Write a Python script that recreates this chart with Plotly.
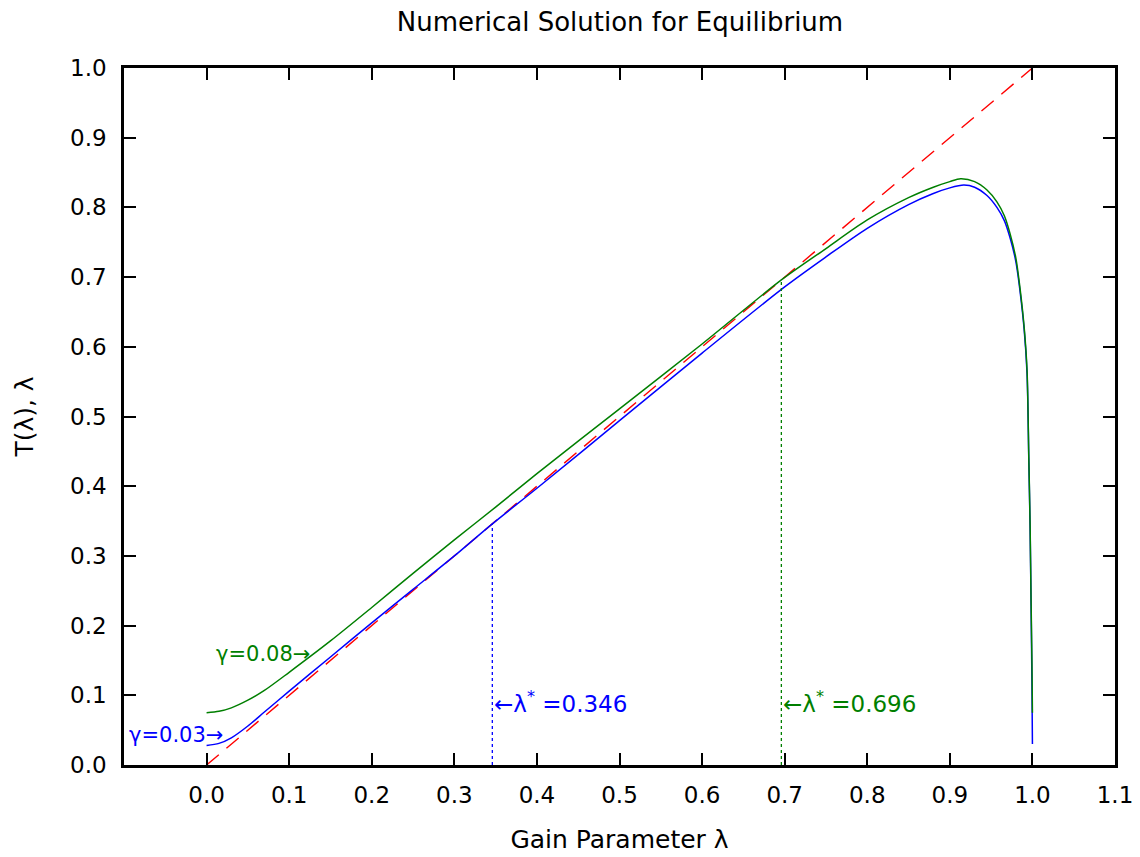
import plotly.graph_objects as go

# ---- data ----
lam_blue = [0.0, 0.015, 0.03, 0.05, 0.07, 0.1, 0.15, 0.2, 0.25, 0.3, 0.346, 0.4, 0.5, 0.6, 0.7, 0.75,
            0.8, 0.85, 0.88, 0.9, 0.917, 0.93, 0.945, 0.957, 0.966, 0.973, 0.98, 0.985, 0.99,
            0.9935, 0.9956, 0.9972, 0.9984, 0.9994, 1.0]
T_blue = [0.028, 0.031, 0.039, 0.056, 0.076, 0.106, 0.155, 0.204, 0.252, 0.300, 0.346, 0.397, 0.494, 0.591, 0.686, 0.729,
          0.770, 0.804, 0.820, 0.828, 0.832, 0.829, 0.817, 0.800, 0.781, 0.756, 0.722, 0.680, 0.625,
          0.562, 0.440, 0.34, 0.227, 0.12, 0.030]

lam_green = [0.0, 0.015, 0.03, 0.05, 0.07, 0.1, 0.15, 0.2, 0.25, 0.3, 0.35, 0.4, 0.5, 0.6, 0.696, 0.75,
             0.8, 0.85, 0.88, 0.9, 0.913, 0.93, 0.945, 0.957, 0.966, 0.973, 0.98, 0.985, 0.99,
             0.9935, 0.9956, 0.9972, 0.9984, 0.9994, 1.0]
T_green = [0.075, 0.077, 0.082, 0.093, 0.107, 0.133, 0.178, 0.226, 0.275, 0.323, 0.370, 0.418, 0.511, 0.604, 0.696, 0.741,
           0.782, 0.814, 0.829, 0.837, 0.841, 0.837, 0.825, 0.808, 0.788, 0.762, 0.727, 0.684, 0.628,
           0.566, 0.443, 0.345, 0.232, 0.15, 0.075]

diag = [0.0, 1.0]

lam_star = [0.346, 0.696]
gammas = ["0.03", "0.08"]

x_ticks = [0.0, 0.1, 0.2, 0.3, 0.4, 0.5, 0.6, 0.7, 0.8, 0.9, 1.0, 1.1]
y_ticks = [0.0, 0.1, 0.2, 0.3, 0.4, 0.5, 0.6, 0.7, 0.8, 0.9, 1.0]

BLUE = "#0000ff"
GREEN = "#007f00"
RED = "#ff0000"
FONT = "DejaVu Sans"

fig = go.Figure()
fig.add_trace(go.Scatter(x=diag, y=diag, mode="lines",
                         line=dict(color=RED, width=1.4, dash="16px,10px"), showlegend=False))
fig.add_trace(go.Scatter(x=lam_blue, y=T_blue, mode="lines", line_shape="spline",
                         line=dict(color=BLUE, width=1.5, smoothing=0.8), showlegend=False))
fig.add_trace(go.Scatter(x=lam_green, y=T_green, mode="lines", line_shape="spline",
                         line=dict(color=GREEN, width=1.5, smoothing=0.8), showlegend=False))
# dotted verticals at lambda*
fig.add_trace(go.Scatter(x=[lam_star[0], lam_star[0]], y=[0, lam_star[0]], mode="lines",
                         line=dict(color=BLUE, width=1.3, dash="dot"), showlegend=False))
fig.add_trace(go.Scatter(x=[lam_star[1], lam_star[1]], y=[0, lam_star[1]], mode="lines",
                         line=dict(color=GREEN, width=1.3, dash="dot"), showlegend=False))

fig.add_annotation(x=lam_star[0], y=0.09, xref="x", yref="y", xanchor="left", yanchor="middle",
                   text="←λ<sup>*</sup> =" + f"{lam_star[0]:.3f}", showarrow=False,
                   font=dict(family=FONT, size=23, color=BLUE))
fig.add_annotation(x=lam_star[1], y=0.09, xref="x", yref="y", xanchor="left", yanchor="middle",
                   text="←λ<sup>*</sup> =" + f"{lam_star[1]:.3f}", showarrow=False,
                   font=dict(family=FONT, size=23, color=GREEN))
fig.add_annotation(x=0.022, y=0.043, xref="x", yref="y", xanchor="right", yanchor="middle",
                   text="γ=" + gammas[0] + "→", showarrow=False,
                   font=dict(family=FONT, size=21, color=BLUE))
fig.add_annotation(x=0.128, y=0.159, xref="x", yref="y", xanchor="right", yanchor="middle",
                   text="γ=" + gammas[1] + "→", showarrow=False,
                   font=dict(family=FONT, size=21, color=GREEN))

fig.update_layout(
    width=1140, height=857,
    margin=dict(l=124, r=25, t=68, b=92, autoexpand=False),
    plot_bgcolor="white", paper_bgcolor="white",
    title=dict(text="Numerical Solution for Equilibrium", x=(363 + 877) / 2 / 1140, xanchor="center",
               y=1 - 22 / 857, yanchor="middle",
               font=dict(family=FONT, size=26, color="black")),
    font=dict(family=FONT, color="black"),
)
fig.update_xaxes(range=[-0.1, 1.1], tickvals=x_ticks, ticktext=[f"{v:.1f}" for v in x_ticks],
                 ticks="inside", ticklen=12, tickwidth=1.5, tickcolor="black",
                 showline=True, linewidth=2.5, linecolor="black", mirror="allticks",
                 showgrid=False, zeroline=False, ticklabelstandoff=8, automargin=False,
                 tickfont=dict(family=FONT, size=23),
                 title=dict(text="Gain Parameter λ", font=dict(family=FONT, size=25), standoff=24))
fig.update_yaxes(range=[0, 1.0], tickvals=y_ticks, ticktext=[f"{v:.1f}" for v in y_ticks],
                 ticks="inside", ticklen=12, tickwidth=1.5, tickcolor="black",
                 showline=True, linewidth=2.5, linecolor="black", mirror="allticks",
                 showgrid=False, zeroline=False, ticklabelstandoff=10, automargin=False,
                 tickfont=dict(family=FONT, size=23),
                 title=dict(text="T(λ), λ", font=dict(family=FONT, size=25), standoff=30))

fig.write_html("out.html")
